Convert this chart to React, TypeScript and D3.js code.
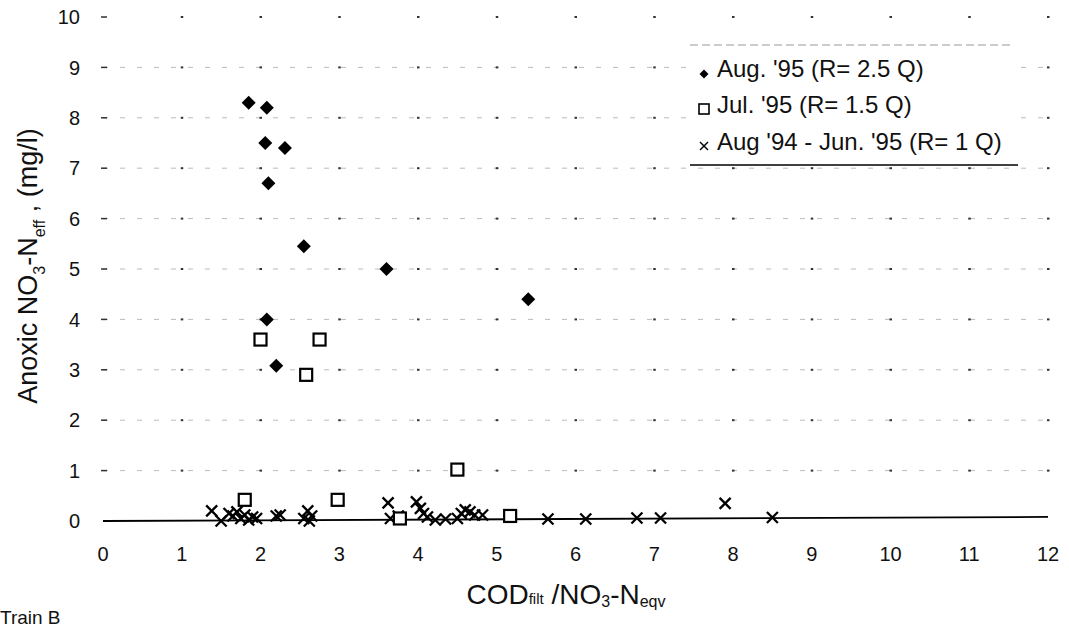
import React from "react";
import * as d3 from "d3";

// ---- Data ----
const xTicks = [0, 1, 2, 3, 4, 5, 6, 7, 8, 9, 10, 11, 12];
const yTicks = [0, 1, 2, 3, 4, 5, 6, 7, 8, 9, 10];

const aug95: [number, number][] = [
  [1.85, 8.3], [2.08, 8.2], [2.06, 7.5], [2.31, 7.4], [2.1, 6.7],
  [2.55, 5.45], [3.6, 5.0], [2.08, 4.0], [2.2, 3.08], [5.4, 4.4],
];

const jul95: [number, number][] = [
  [2.0, 3.6], [2.75, 3.6], [2.58, 2.9], [4.5, 1.02], [1.8, 0.42],
  [2.98, 0.42], [3.77, 0.05], [5.17, 0.1],
];

const aug94jun95: [number, number][] = [
  [1.38, 0.2], [1.5, 0.0], [1.6, 0.15], [1.65, 0.1], [1.7, 0.18], [1.75, 0.05],
  [1.8, 0.12], [1.85, 0.02], [1.9, 0.08], [1.95, 0.05], [2.2, 0.1], [2.25, 0.12],
  [2.55, 0.05], [2.6, 0.2], [2.62, 0.0], [2.65, 0.1], [3.62, 0.36], [3.65, 0.05],
  [3.75, 0.1], [3.98, 0.38], [4.03, 0.25], [4.07, 0.15], [4.12, 0.08], [4.22, 0.02],
  [4.35, 0.04], [4.5, 0.05], [4.55, 0.15], [4.6, 0.22], [4.66, 0.18], [4.72, 0.12],
  [4.82, 0.12], [5.65, 0.04], [6.13, 0.04], [6.78, 0.06], [7.08, 0.06], [7.9, 0.35],
  [8.5, 0.07],
];

const trendLine: [number, number][] = [[0, 0.0], [12, 0.08]];

const legendLabels = [
  "Aug. '95 (R= 2.5 Q)",
  "Jul. '95 (R= 1.5 Q)",
  "Aug '94 - Jun. '95 (R= 1 Q)",
];

// ---- Layout ----
const W = 1069;
const H = 628;
const x = d3.scaleLinear().domain([0, 12]).range([103, 1048]);
const y = d3.scaleLinear().domain([0, 10]).range([521, 17]);
const FONT = "'Liberation Sans', Arial, Helvetica, sans-serif";

const diamond = (cx: number, cy: number, r: number) =>
  `M${cx},${cy - r}L${cx + r},${cy}L${cx},${cy + r}L${cx - r},${cy}Z`;

function Cross({ cx, cy, r, sw = 2 }: { cx: number; cy: number; r: number; sw?: number }) {
  return (
    <g stroke="#000" strokeWidth={sw}>
      <line x1={cx - r} y1={cy - r} x2={cx + r} y2={cy + r} />
      <line x1={cx - r} y1={cy + r} x2={cx + r} y2={cy - r} />
    </g>
  );
}

export default function App() {
  const line = d3.line<[number, number]>().x((d) => x(d[0])).y((d) => y(d[1]));
  const gridX = xTicks.filter((v) => v > 0);
  const gridY = yTicks.filter((v) => v > 0);

  return (
    <svg
      width={W}
      height={H}
      style={{ position: "absolute", left: 0, top: 0, background: "#fff" }}
      fontFamily={FONT}
    >
      <rect x={0} y={0} width={W} height={H} fill="#fff" />

      {/* faint horizontal gridlines */}
      {gridY.filter((v) => v < 10).map((v) => (
        <line
          key={"g" + v}
          x1={x(0)}
          x2={x(12)}
          y1={y(v)}
          y2={y(v)}
          stroke="#bbb"
          strokeWidth={1}
          strokeDasharray="5 12"
        />
      ))}
      {/* grid dots */}
      {gridY.map((v) =>
        gridX.map((u) => (
          <rect key={`d${u}-${v}`} x={x(u) - 1} y={y(v) - 1} width={2.5} height={2} fill="#333" />
        ))
      )}

      {/* y tick marks and labels */}
      {yTicks.map((v) => (
        <g key={"yt" + v}>
          {v > 0 && (
            <line x1={x(0) - 2} x2={x(0) + 4} y1={y(v)} y2={y(v)} stroke="#333" strokeWidth={1.5} />
          )}
          <text x={80} y={y(v)} dy="0.36em" textAnchor="end" fontSize={20} fill="#111">
            {v}
          </text>
        </g>
      ))}

      {/* x tick labels */}
      {xTicks.map((v) => (
        <text key={"xt" + v} x={x(v)} y={561} textAnchor="middle" fontSize={20} fill="#111">
          {v}
        </text>
      ))}

      {/* trend / baseline */}
      <path d={line(trendLine) || ""} fill="none" stroke="#000" strokeWidth={1.8} />

      {/* series: crosses */}
      {aug94jun95.map((d, i) => (
        <Cross key={"c" + i} cx={x(d[0])} cy={y(d[1])} r={5.5} sw={2.3} />
      ))}

      {/* series: squares */}
      {jul95.map((d, i) => (
        <rect
          key={"s" + i}
          x={x(d[0]) - 6}
          y={y(d[1]) - 6}
          width={12}
          height={12}
          fill="#fff"
          stroke="#000"
          strokeWidth={2.2}
        />
      ))}

      {/* series: diamonds */}
      {aug95.map((d, i) => (
        <path key={"dm" + i} d={diamond(x(d[0]), y(d[1]), 7)} fill="#000" />
      ))}

      {/* legend */}
      <rect x={690} y={45} width={328} height={120} fill="#fff" />
      <line x1={690} x2={1013} y1={45} y2={45} stroke="#999" strokeWidth={1} strokeDasharray="8 4" />
      <line x1={690} x2={1018} y1={165} y2={165} stroke="#000" strokeWidth={1.6} />
      <path d={diamond(704, 74, 4.5)} fill="#000" />
      <rect x={699} y={104} width={10} height={10} fill="#fff" stroke="#000" strokeWidth={1.6} />
      <Cross cx={704} cy={146} r={4} sw={1.5} />
      {legendLabels.map((t, i) => (
        <text key={"lg" + i} x={717} y={[77, 113, 150][i]} fontSize={24} fill="#111">
          {t}
        </text>
      ))}

      {/* y axis title */}
      <text
        transform="translate(37,266) rotate(-90)"
        textAnchor="middle"
        fontSize={27}
        fill="#111"
      >
        Anoxic NO
        <tspan fontSize={16} dy={8}>3</tspan>
        <tspan dy={-8}>-N</tspan>
        <tspan fontSize={16} dy={8}>eff</tspan>
        <tspan dy={-8}>{" ,    (mg/l)"}</tspan>
      </text>

      {/* x axis title */}
      <text x={566} y={604} textAnchor="middle" fontSize={28} fill="#111">
        COD
        <tspan fontSize={15}>filt</tspan>
        <tspan>{" /NO"}</tspan>
        <tspan fontSize={16} dy={3}>3</tspan>
        <tspan dy={-3}>-N</tspan>
        <tspan fontSize={16} dy={3}>eqv</tspan>
      </text>

      {/* caption */}
      <text x={0} y={624} fontSize={19} fill="#111">
        Train B
      </text>
    </svg>
  );
}
